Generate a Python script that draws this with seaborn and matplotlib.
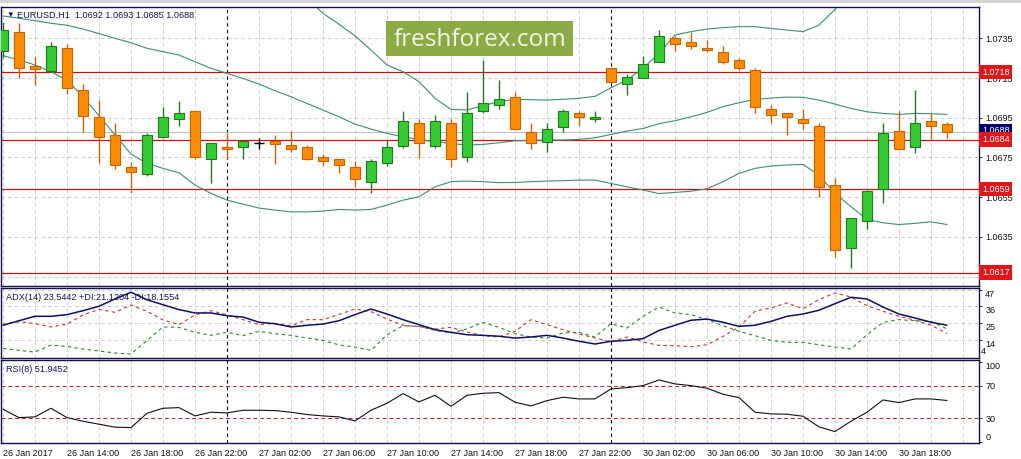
import numpy as np
import pandas as pd
import matplotlib
matplotlib.use("Agg")
import matplotlib.pyplot as plt
import matplotlib.transforms as mtransforms
from matplotlib.patches import Rectangle
import seaborn as sns

# EURUSD H1 candles, 26 Jan 10:00 .. 30 Jan 21:00
opens = [1.07288, 1.0738, 1.07211, 1.07185, 1.073, 1.0709, 1.06952, 1.06863, 1.067, 1.06668,
         1.06851, 1.06942, 1.06982, 1.0674, 1.06801, 1.06801, 1.06821, 1.06833, 1.06812, 1.06801,
         1.06752, 1.0674, 1.067, 1.06628, 1.0672, 1.06809, 1.06922, 1.06809, 1.06922, 1.0675,
         1.06982, 1.07012, 1.07056, 1.0688, 1.06829, 1.06901, 1.06972, 1.06945, 1.07199, 1.07118,
         1.07148, 1.07229, 1.0735, 1.0733, 1.073, 1.07279, 1.07239, 1.07189, 1.06992, 1.06972,
         1.06942, 1.06911, 1.06609, 1.06292, 1.06431, 1.06589, 1.06881, 1.06801, 1.06932, 1.0692]
highs = [1.07434, 1.07429, 1.07258, 1.0733, 1.07321, 1.0712, 1.07039, 1.06922, 1.06728, 1.06871,
         1.07002, 1.07034, 1.06982, 1.06821, 1.06871, 1.06831, 1.06846, 1.06863, 1.06883, 1.06812,
         1.06765, 1.0674, 1.06732, 1.0674, 1.06838, 1.06985, 1.06943, 1.06964, 1.06945, 1.0708,
         1.07241, 1.0714, 1.07078, 1.06922, 1.06922, 1.06992, 1.06984, 1.06984, 1.07199, 1.0717,
         1.07261, 1.07392, 1.07362, 1.0738, 1.07342, 1.07311, 1.07249, 1.07199, 1.07012, 1.06972,
         1.06992, 1.06922, 1.06649, 1.06443, 1.06586, 1.06922, 1.06985, 1.0709, 1.06972, 1.0693]
lows = [1.07249, 1.07148, 1.07115, 1.0718, 1.07068, 1.0688, 1.0672, 1.0669, 1.06569, 1.06658,
        1.06846, 1.06908, 1.0674, 1.06619, 1.0674, 1.0674, 1.06792, 1.06717, 1.06779, 1.06737,
        1.06708, 1.0667, 1.06599, 1.06569, 1.06708, 1.06799, 1.06749, 1.06799, 1.067, 1.06728,
        1.06972, 1.06994, 1.06891, 1.06791, 1.06779, 1.0688, 1.0691, 1.0693, 1.07128, 1.07064,
        1.07148, 1.07229, 1.07288, 1.07298, 1.07279, 1.07219, 1.07189, 1.06972, 1.06922, 1.06861,
        1.06891, 1.06552, 1.0625, 1.06191, 1.06391, 1.06522, 1.06791, 1.0677, 1.06841, 1.0685]
closes = [1.07392, 1.07199, 1.07195, 1.07311, 1.07098, 1.0696, 1.06851, 1.0671, 1.06678, 1.06861,
          1.06952, 1.06972, 1.0675, 1.06821, 1.06791, 1.06831, 1.06821, 1.06817, 1.06791, 1.0674,
          1.0673, 1.06712, 1.06639, 1.0673, 1.06801, 1.06932, 1.06821, 1.06932, 1.0674, 1.06972,
          1.07022, 1.07046, 1.06891, 1.06821, 1.06891, 1.06982, 1.06952, 1.06952, 1.07128, 1.07157,
          1.07219, 1.07362, 1.0732, 1.0731, 1.0729, 1.07229, 1.07199, 1.07002, 1.06962, 1.06952,
          1.06922, 1.06599, 1.06283, 1.06443, 1.06581, 1.06871, 1.06791, 1.06922, 1.06911, 1.0688]

# Bollinger bands (upper band runs off the chart at both ends)
bb_upper = [np.nan] * 19 + [
    1.07552, 1.07476, 1.07421, 1.07363, 1.07291, 1.07216, 1.07182, 1.07132, 1.07048, 1.06992,
    1.06989, 1.07011, 1.07031, 1.07043, 1.07041, 1.07039, 1.07043, 1.07048, 1.07058, 1.07101,
    1.0714, 1.07199, 1.07274, 1.07367, 1.07384, 1.07397, 1.07404, 1.07409, 1.07409, 1.074,
    1.07392, 1.07384, 1.07417, 1.07496, 1.07594] + [np.nan] * 6
bb_mid = [1.07463, 1.07451, 1.07439, 1.07426, 1.07416, 1.07397, 1.07374, 1.0735, 1.07328, 1.073,
          1.07283, 1.07266, 1.07232, 1.07199, 1.07174, 1.07148, 1.0712, 1.07086, 1.07056, 1.07022,
          1.06989, 1.06955, 1.06918, 1.06893, 1.06871, 1.06854, 1.06841, 1.06829, 1.06821, 1.06812,
          1.06816, 1.06824, 1.06834, 1.06836, 1.06838, 1.06838, 1.06841, 1.06849, 1.06866, 1.06883,
          1.06896, 1.0692, 1.06935, 1.06955, 1.06977, 1.07006, 1.07026, 1.07043, 1.07049, 1.07054,
          1.07053, 1.07039, 1.07019, 1.06997, 1.0698, 1.06972, 1.06967, 1.06972, 1.0697, 1.06967]
bb_lower = [1.07263, 1.07241, 1.07216, 1.07182, 1.0714, 1.07056, 1.0696, 1.06863, 1.06767, 1.0672,
            1.06695, 1.06673, 1.06611, 1.06569, 1.06535, 1.06515, 1.06495, 1.06485, 1.06476, 1.06476,
            1.0648, 1.06488, 1.06485, 1.06488, 1.0651, 1.06535, 1.06552, 1.06602, 1.06628, 1.06631,
            1.06628, 1.06623, 1.06624, 1.06628, 1.06631, 1.06633, 1.06636, 1.06636, 1.06619, 1.06602,
            1.06586, 1.06568, 1.06574, 1.0658, 1.06592, 1.06628, 1.0667, 1.06695, 1.06707, 1.06712,
            1.06715, 1.06661, 1.06569, 1.06502, 1.06438, 1.06421, 1.06412, 1.06418, 1.06426, 1.06412]

# ADX(14)
adx = [23.5, 26.5, 29.4, 29.4, 30.5, 33.1, 36.0, 40.8, 45.2, 40.3,
       37.0, 33.8, 31.6, 31.6, 29.8, 28.9, 25.5, 24.5, 22.4, 23.5,
       24.3, 26.5, 30.5, 34.2, 30.9, 27.2, 23.9, 20.6, 18.9, 17.3,
       16.9, 16.3, 15.1, 15.8, 16.9, 15.1, 13.0, 11.2, 13.0, 13.6,
       14.7, 20.1, 23.5, 26.8, 27.6, 25.5, 22.8, 23.5, 26.1, 29.4,
       30.9, 33.4, 37.7, 41.9, 40.8, 35.5, 30.9, 28.3, 25.5, 23.54]
plus_di = [8.3, 7.0, 5.9, 10.5, 9.6, 7.9, 6.6, 5.3, 4.6, 13.6,
           22.4, 22.1, 18.9, 16.9, 18.9, 16.7, 19.5, 18.0, 16.9, 15.1,
           13.6, 10.6, 9.2, 7.0, 17.3, 23.2, 22.8, 20.2, 18.4, 21.1,
           25.4, 22.1, 18.0, 15.8, 15.1, 18.4, 18.9, 15.8, 24.6, 21.7,
           29.4, 35.5, 31.6, 30.5, 27.2, 23.2, 19.5, 16.7, 13.6, 12.3,
           12.3, 10.7, 9.2, 7.9, 17.3, 25.4, 27.2, 26.5, 26.1, 21.12]
minus_di = [24.1, 25.9, 24.6, 22.4, 24.3, 30.3, 34.0, 32.0, 36.8, 32.7,
            27.0, 23.9, 30.3, 33.1, 30.3, 27.2, 23.9, 24.8, 23.2, 27.2,
            27.2, 30.6, 34.2, 32.5, 27.6, 23.5, 22.6, 21.1, 22.1, 19.1,
            16.7, 15.8, 19.5, 27.2, 23.9, 20.6, 17.8, 15.1, 12.6, 15.8,
            12.6, 10.3, 10.1, 9.4, 10.7, 16.2, 22.4, 32.7, 34.9, 38.2,
            34.4, 40.4, 44.7, 42.1, 36.4, 32.7, 29.4, 26.8, 23.5, 18.16]

# RSI(8)
rsi = [41.1, 30.7, 31.6, 42.3, 30.7, 26.2, 22.5, 18.8, 18.3, 36.1,
       42.3, 43.1, 32.8, 37.4, 36.5, 39.8, 39.8, 39.4, 37.4, 34.5,
       32.8, 31.6, 26.6, 39.8, 48.5, 60.5, 50.2, 58.4, 44.8, 58.4,
       60.9, 61.7, 49.8, 45.2, 51.8, 56.0, 53.9, 53.9, 66.3, 67.9,
       70.4, 77.4, 72.5, 70.4, 67.1, 59.7, 55.5, 37.4, 35.3, 34.9,
       32.4, 19.2, 13.4, 26.2, 37.4, 52.6, 49.3, 53.9, 53.9, 51.95]

levels = [1.0718, 1.0684, 1.0659, 1.0617]
last_price = 1.0688
price_ticks = [1.0735, 1.0715, 1.0695, 1.0675, 1.0655, 1.0635, 1.0615]
adx_ticks = [47, 36, 25, 14]
rsi_ticks = [100, 70, 30, 0]
rsi_levels = [70, 30]
day_breaks = [14, 38]
time_labels = ['26 Jan 2017', '26 Jan 14:00', '26 Jan 18:00', '26 Jan 22:00',
               '27 Jan 02:00', '27 Jan 06:00', '27 Jan 10:00', '27 Jan 14:00',
               '27 Jan 18:00', '27 Jan 22:00', '30 Jan 02:00', '30 Jan 06:00',
               '30 Jan 10:00', '30 Jan 14:00', '30 Jan 18:00']

df = pd.DataFrame({'open': opens, 'high': highs, 'low': lows, 'close': closes,
                   'upper': bb_upper, 'mid': bb_mid, 'lower': bb_lower,
                   'adx': adx, 'pdi': plus_di, 'mdi': minus_di, 'rsi': rsi})
df['idx'] = np.arange(len(df))

sns.set_style('white')
plt.rcParams['font.family'] = ['Liberation Sans', 'DejaVu Sans']
plt.rcParams['font.size'] = 6.5

W, H = 1021, 459
fig = plt.figure(figsize=(W / 100, H / 100), dpi=100)
fig.patch.set_facecolor('white')

# window border strip at the very top
fig.add_artist(Rectangle((0, 1 - 2.5 / H), 1, 2.5 / H, transform=fig.transFigure,
                         fc='#d4d4d4', ec='none'))


def px_axes(top, bottom):
    return fig.add_axes([1 / W, 1 - bottom / H, 978 / W, (bottom - top) / H])


ax = px_axes(7, 285.5)
ax_adx = px_axes(288, 358)
ax_rsi = px_axes(360, 442.5)

frame = '#10104a'
grid_c = '#c4c4c4'
dash = (0, (4, 4))

for a in (ax, ax_adx, ax_rsi):
    a.set_xlim(-0.125, 61)
    a.yaxis.tick_right()
    a.tick_params(axis='y', length=2.5, pad=2, labelsize=6.5, colors='#101010', width=0.6)
    for s in a.spines.values():
        s.set_color(frame)
        s.set_linewidth(1.0)
    for i in range(0, 61, 2):
        a.axvline(i, color=grid_c, lw=0.6, ls=dash, zorder=0)
    for d in day_breaks:
        a.axvline(d, color='black', lw=0.8, ls=(0, (3, 3)), zorder=1)

ax.set_xticks([])
ax_adx.set_xticks([])

# ---- main price panel
ax.set_ylim(1.06105, 1.07508)
ax.set_yticks(price_ticks)
ax.set_yticklabels([f'{p:.4f}' for p in price_ticks])
for p in price_ticks:
    ax.axhline(p, color=grid_c, lw=0.6, ls=dash, zorder=0)
ax.axhline(last_price, color='#c0c0c0', lw=0.8, zorder=1)
for lv in levels:
    ax.axhline(lv, color='#c81010', lw=0.9, zorder=2)

for col in ('upper', 'mid', 'lower'):
    sns.lineplot(data=df, x='idx', y=col, ax=ax, color='#3b8f6e', lw=0.8, zorder=2)

up = df[df.close > df.open]
dn = df[df.close < df.open]
dj = df[df.close == df.open]
bw = 0.62
ax.vlines(up.idx, up.low, up.high, color='#1f7a1f', lw=1, zorder=3)
ax.bar(up.idx, up.close - up.open, bottom=up.open, width=bw, color='#33cc33',
       edgecolor='#1f7a1f', lw=0.8, zorder=4)
ax.vlines(dn.idx, dn.low, dn.high, color='#c86400', lw=1, zorder=3)
ax.bar(dn.idx, dn.open - dn.close, bottom=dn.close, width=bw, color='#ff8c00',
       edgecolor='#c86400', lw=0.8, zorder=4)
ax.vlines(dj.idx, dj.low, dj.high, color='black', lw=1, zorder=3)
ax.hlines(dj.close, dj.idx - bw / 2, dj.idx + bw / 2, color='black', lw=1, zorder=4)
ax.set_xlim(-0.125, 61)
ax.set_xlabel('')
ax.set_ylabel('')

# price boxes on the right scale
tr = mtransforms.blended_transform_factory(ax.transAxes, ax.transData)
ax.text(1.003, last_price + 0.00004, f'{last_price:.4f}', transform=tr, ha='left', va='center',
        color='white', fontsize=6.5, clip_on=False, zorder=10,
        bbox=dict(boxstyle='square,pad=0.3', fc='#000070', ec='none'))
for lv in levels:
    ax.text(1.003, lv, f'{lv:.4f}', transform=tr, ha='left', va='center', color='white',
            fontsize=6.5, clip_on=False, zorder=11,
            bbox=dict(boxstyle='square,pad=0.3', fc='#e0161b', ec='none'))

# ---- ADX panel
ax_adx.set_ylim(2.0, 48.0)
ax_adx.set_yticks(adx_ticks)
ax_adx.set_yticklabels([str(t) for t in adx_ticks])
for lbl in ax_adx.get_yticklabels():
    lbl.set_va('top')
for t in adx_ticks:
    ax_adx.axhline(t, color=grid_c, lw=0.6, ls=dash, zorder=0)
sns.lineplot(data=df, x='idx', y='pdi', ax=ax_adx, color='#2a8a2a', lw=0.8, ls=(0, (3, 3)))
sns.lineplot(data=df, x='idx', y='mdi', ax=ax_adx, color='#c0392b', lw=0.8, ls=(0, (3, 3)))
sns.lineplot(data=df, x='idx', y='adx', ax=ax_adx, color='#101060', lw=1.1)
ax_adx.set_xlim(-0.125, 61)
ax_adx.set_xlabel('')
ax_adx.set_ylabel('')
# stray scale label that sits just under "14" in the original
ax_adx.text(1.0015, 0.095, '4', transform=ax_adx.transAxes, fontsize=6.5, color='#101010',
            ha='left', va='center', clip_on=False)

# ---- RSI panel
ax_rsi.set_ylim(-0.2, 102.2)
ax_rsi.set_yticks(rsi_ticks)
ax_rsi.set_yticklabels([str(t) for t in rsi_ticks])
yl = ax_rsi.get_yticklabels()
yl[0].set_va('top')
yl[-1].set_va('bottom')
for lv in rsi_levels:
    ax_rsi.axhline(lv, color='#b22222', lw=0.7, ls=(0, (4, 3)), zorder=1)
sns.lineplot(data=df, x='idx', y='rsi', ax=ax_rsi, color='#101010', lw=0.8)
ax_rsi.set_xlim(-0.125, 61)
ax_rsi.set_xticks(np.arange(0, 60, 4))
ax_rsi.set_xticklabels(time_labels, ha='left')
ax_rsi.tick_params(axis='x', length=3, pad=1.5, labelsize=6.5, colors='#101010', width=0.6)
ax_rsi.set_xlabel('')
ax_rsi.set_ylabel('')

# ---- header texts
hdr = '#14145a'
fig.text(6 / W, 1 - 15 / H, '\u25bc', fontsize=5.5, color=hdr, va='center')
fig.text(17 / W, 1 - 15 / H, 'EURUSD,H1  1.0692 1.0693 1.0685 1.0688', fontsize=6.6,
         color=hdr, va='center')
fig.text(6 / W, 1 - 298 / H, 'ADX(14) 23.5442 +DI:21.1204 -DI:18.1554', fontsize=6.6,
         color=hdr, va='center')
fig.text(6 / W, 1 - 370 / H, 'RSI(8) 51.9452', fontsize=6.6, color=hdr, va='center')

# logo
fig.add_artist(Rectangle((386 / W, 1 - 56 / H), 187 / W, 35 / H, transform=fig.transFigure,
                         fc='#8cab46', ec='none', zorder=20))
fig.text(479.5 / W, 1 - 39.5 / H, 'freshforex.com', family='Open Sans', fontsize=17.5,
         color='#f3f6e6', ha='center', va='center', zorder=21)

fig.savefig('out.png', dpi=100)
